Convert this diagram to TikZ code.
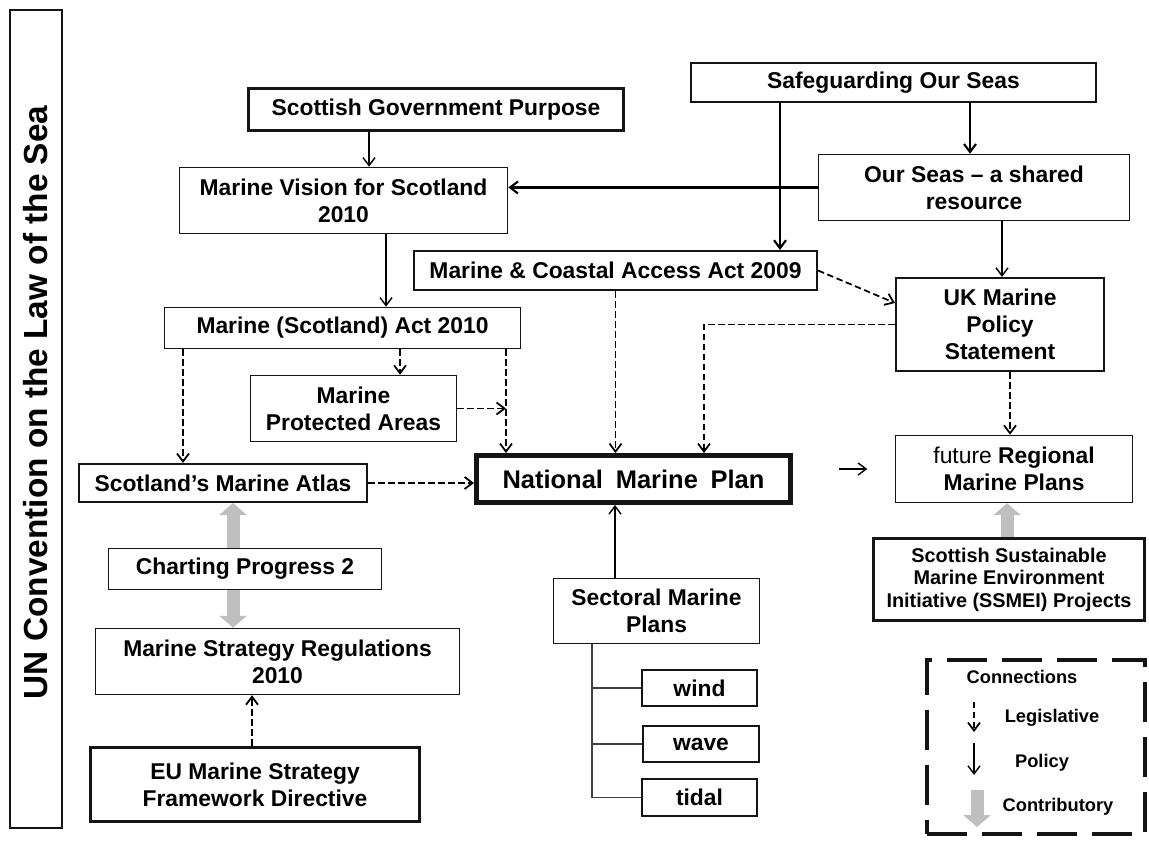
\documentclass[tikz,border=0pt]{standalone}
\usepackage{fontspec}
\setmainfont{Liberation Sans}
\usetikzlibrary{arrows.meta,positioning,backgrounds,calc}
\definecolor{hidden-draw}{RGB}{20,20,20}
\definecolor{contrib-gray}{HTML}{BFBFBF}

\begin{document}
\begin{tikzpicture}[
 box/.style={draw=hidden-draw, line width=0.85pt, fill=white, align=center, inner sep=1pt,
   font={\fontsize{13}{15.4}\selectfont\bfseries}},
 boxB/.style={box, line width=1.2pt},
 boxC/.style={box, line width=1.8pt},
 pol/.style={-{Straight Barb[length=1.6mm,width=2.4mm]}, line width=0.8pt},
 polB/.style={pol, line width=1.2pt},
 legis/.style={-{Straight Barb[length=1.6mm,width=2.4mm]}, line width=1pt, dash pattern=on 1.3mm off 0.7mm},
 contrib/.style={-{Triangle[length=2.4mm,width=5.4mm]}, line width=2.6mm, contrib-gray},
 tree/.style={line width=0.6pt, black!75},
 legbox/.style={draw=hidden-draw, line width=2.3pt, dash pattern=on 8mm off 3mm},
 legtext/.style={font={\fontsize{10.4}{12}\selectfont\bfseries}},
]
 \useasboundingbox (0,0) rectangle (22.98,16.8);
 % frame on the left
 \node[box, line width=1.5pt, rotate=90, minimum width=16.36cm, minimum height=1.04cm,
   font={\fontsize{19}{22}\selectfont\bfseries}] (unclos) at (0.72,8.42) {\hspace*{0.66cm}UN Convention on the Law of the Sea};
 % top row
 \node[boxC, minimum width=7.5cm, minimum height=0.84cm] (sgp) at (8.72,14.61) {Scottish Government Purpose};
 \node[boxB, minimum width=8.1cm, minimum height=0.78cm] (sos) at (17.87,15.15) {Safeguarding Our Seas};
 \node[box, minimum width=6.22cm, minimum height=1.32cm] (ourseas) at (19.48,13.05) {Our Seas -- a shared\\resource};
 \node[box, minimum width=6.56cm, minimum height=1.32cm] (mvs) at (6.87,12.79) {Marine Vision for Scotland\\2010};
 % acts and statements
 \node[boxB, minimum width=8.06cm, minimum height=0.78cm] (mcaa) at (12.31,11.39) {Marine \& Coastal Access Act 2009};
 \node[boxB, minimum width=4.16cm, minimum height=1.86cm] (ukmps) at (20.0,10.31) {UK Marine\\Policy\\Statement};
 \node[box, minimum width=7.12cm, minimum height=0.82cm] (msa) at (6.85,10.24) {Marine (Scotland) Act 2010};
 \node[box, minimum width=4.12cm, minimum height=1.32cm] (mpa) at (7.07,8.63) {Marine\\Protected Areas};
 % plan row
 \node[boxB, minimum width=5.76cm, minimum height=0.76cm] (atlas) at (4.46,7.14) {Scotland’s Marine Atlas};
 \node[box, line width=2.8pt, minimum width=6.28cm, minimum height=0.94cm,
   font={\fontsize{14.5}{17}\selectfont\bfseries}] (nmp) at (12.67,7.22) {National\enspace Marine\enspace Plan};
 \node[box, minimum width=4.74cm, minimum height=1.34cm] (rmp) at (20.28,7.42) {{\mdseries future} Regional\\Marine Plans};
 % lower left
 \node[box, minimum width=5.46cm, minimum height=0.82cm] (cp) at (4.9,5.42) {Charting Progress 2};
 \node[box, minimum width=7.28cm, minimum height=1.32cm] (msr) at (5.55,3.57) {Marine Strategy Regulations\\2010};
 \node[boxC, minimum width=6.58cm, minimum height=1.48cm] (eu) at (5.1,1.11) {EU Marine Strategy\\Framework Directive};
 % sectoral plans
 \node[box, minimum width=4.12cm, minimum height=1.3cm] (smp) at (13.13,4.58) {Sectoral Marine\\Plans};
 \node[boxB, minimum width=2.3cm, minimum height=0.72cm] (wind) at (13.99,3.04) {wind};
 \node[boxB, minimum width=2.32cm, minimum height=0.72cm] (wave) at (14.02,1.92) {wave};
 \node[boxB, minimum width=2.3cm, minimum height=0.74cm] (tidal) at (13.99,0.85) {tidal};
 \node[box, line width=1.4pt, minimum width=5.42cm, minimum height=1.64cm,
   font={\fontsize{11.3}{12.8}\selectfont\bfseries}] (ssmei) at (20.18,5.21) {Scottish Sustainable\\Marine Environment\\Initiative (SSMEI) Projects};

 % policy links
 \draw[pol] ([xshift=-1.34cm]sgp.south) -- ([xshift=-1.34cm]sgp.south |- mvs.north);
 \draw[pol] ([xshift=0.85cm]mvs.south) -- ([xshift=0.85cm]mvs.south |- msa.north);
 \draw[polB] ([xshift=-2.27cm]sos.south) -- ([xshift=-2.27cm]sos.south |- mcaa.north);
 \draw[polB] ([xshift=1.53cm]sos.south) -- ([xshift=1.53cm]sos.south |- ourseas.north);
 \draw[polB] (ourseas.west) -- (ourseas.west -| mvs.east);
 \draw[pol] ([xshift=0.56cm]ourseas.south) -- ([xshift=0.56cm]ourseas.south |- ukmps.north);
 \draw[pol] ([xshift=-0.83cm]smp.north) -- ([xshift=-0.83cm]smp.north |- nmp.south);
 \draw[pol, shorten <=0.92cm, shorten >=0.55cm] (nmp.east |- rmp.west) -- (rmp.west);
 % legislative links
 \coordinate (msaOut) at ([xshift=3.27cm]msa.south);
 \draw[legis] (mcaa.south) -- (mcaa.south |- nmp.north);
 \draw[legis] (msaOut) -- (msaOut |- nmp.north);
 \draw[legis] (mpa.east) -- (mpa.east -| msaOut);
 \draw[legis] ([xshift=1.15cm]msa.south) -- ([xshift=1.15cm]msa.south |- mpa.north);
 \draw[legis] ([xshift=-3.19cm]msa.south) -- ([xshift=-3.19cm]msa.south |- atlas.north);
 \draw[legis] (atlas.east) -- (atlas.east -| nmp.west);
 \draw[legis] (mcaa.east) -- ([yshift=0.43cm]ukmps.west);
 \draw[legis] (ukmps.west) -| ([xshift=1.41cm]nmp.north);
 \draw[legis] ([xshift=0.2cm]ukmps.south) -- ([xshift=0.2cm]ukmps.south |- rmp.north);
 \draw[legis] ([xshift=-0.06cm]eu.north) -- ([xshift=-0.06cm]eu.north |- msr.south);
 % contributory links, behind the boxes
 \begin{scope}[on background layer]
 \draw[contrib] ([xshift=-0.24cm]cp.north) -- ([xshift=-0.24cm]cp.north |- atlas.south);
 \draw[contrib] ([xshift=-0.24cm]cp.south) -- ([xshift=-0.24cm]cp.south |- msr.north);
 \draw[contrib] ([xshift=-0.04cm]ssmei.north) -- ([xshift=-0.04cm]ssmei.north |- rmp.south);
 \end{scope}
 % sectoral tree
 \coordinate (trunk) at ([xshift=-1.29cm]smp.south);
 \draw[tree] (trunk) |- (wind.west);
 \draw[tree] (trunk) |- (wave.west);
 \draw[tree] (trunk) |- (tidal.west);

 % legend
 \node[legbox, minimum width=4.36cm, minimum height=3.48cm] (legend) at (20.72,1.86) {};
 \node[legtext] (legTitle) at (20.44,3.26) {Connections};
 \coordinate (legisTop) at (19.48,2.76); \coordinate (legisEnd) at (19.48,2.16);
 \draw[legis] (legisTop) -- (legisEnd);
 \node[legtext] (legLegis) at (21.04,2.44) {Legislative};
 \coordinate (polTop) at (19.48,1.94); \coordinate (polEnd) at (19.48,1.3);
 \draw[pol] (polTop) -- (polEnd);
 \node[legtext] (legPol) at (20.84,1.54) {Policy};
 \coordinate (contribTop) at (19.54,1.0); \coordinate (contribEnd) at (19.54,0.26);
 \draw[contrib] (contribTop) -- (contribEnd);
 \node[legtext] (legContrib) at (21.16,0.66) {Contributory};
\end{tikzpicture}
\end{document}
